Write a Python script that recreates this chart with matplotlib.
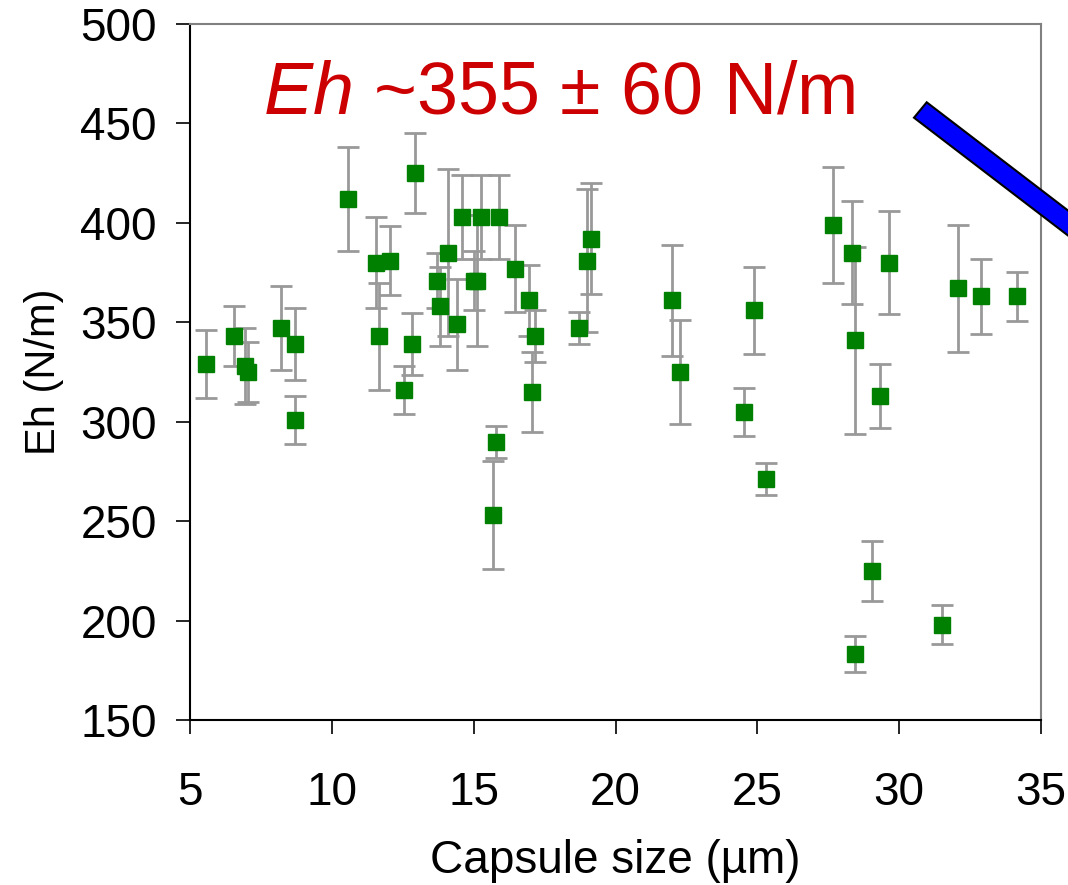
import matplotlib
matplotlib.use('Agg')
import matplotlib.pyplot as plt
from matplotlib.patches import Polygon

plt.rcParams['font.family'] = ['Liberation Sans', 'DejaVu Sans']
plt.rcParams['mathtext.fontset'] = 'custom'
plt.rcParams['mathtext.rm'] = 'Liberation Sans'
plt.rcParams['mathtext.it'] = 'Liberation Sans:italic'

# capsule size (um), Eh (N/m), error (N/m)
size = [5.55, 6.55, 6.94, 7.04, 8.22, 8.71, 8.71, 10.58, 11.56, 11.65,
        12.05, 12.54, 12.84, 12.93, 13.72, 13.81, 14.11, 14.40, 14.60, 15.00,
        15.10, 15.27, 15.89, 16.47, 16.96, 17.16, 17.07, 15.79, 15.69, 18.73,
        19.01, 19.12, 21.99, 22.27, 24.53, 24.88, 25.30, 27.68, 28.35, 28.45,
        28.45, 29.04, 29.34, 29.64, 31.51, 32.09, 32.88, 34.15]
eh = [329, 343, 328, 325, 347, 339, 301, 412, 380, 343,
      381, 316, 339, 425, 371, 358, 385, 349, 403, 371,
      371, 403, 403, 377, 361, 343, 315, 290, 253, 347,
      381, 392, 361, 325, 305, 356, 271, 399, 385, 341,
      183, 225, 313, 380, 198, 367, 363, 363]
err = [17, 15, 19, 15, 21, 18, 12, 26, 23, 27,
       17.5, 12, 15.5, 20, 14, 20, 42, 23, 21, 15,
       33, 21, 21, 22, 18, 13, 20, 8, 27, 8,
       36, 28, 28, 26, 12, 22, 8, 29, 26, 47,
       9, 15, 16, 26, 10, 32, 19, 12.5]

fig = plt.figure(figsize=(10.68, 8.85), dpi=100)
ax = fig.add_axes([190/1068, 1-720/885, (1041-190)/1068, (720-24)/885])

ax.errorbar(size, eh, yerr=err, fmt='s', color='#008000', markersize=12,
            markeredgecolor='#008000', ecolor='#999999', elinewidth=2,
            capsize=8, capthick=2, zorder=3)

ax.set_xlim(5, 35)
ax.set_ylim(150, 500)
ax.set_xticks(range(5, 40, 5))
ax.set_yticks(range(150, 550, 50))
ax.tick_params(direction='out', length=10, width=1.2, labelsize=33)
ax.tick_params(axis='x', pad=27)
ax.tick_params(axis='y', pad=14)

for s in ['left', 'bottom']:
    ax.spines[s].set_color('black')
    ax.spines[s].set_linewidth(1.5)
for s in ['top', 'right']:
    ax.spines[s].set_color('#808080')
    ax.spines[s].set_linewidth(1.5)

ax.set_xlabel('Capsule size (µm)', fontsize=33, labelpad=17)
ax.set_ylabel('Eh (N/m)', fontsize=30, labelpad=12)

fig.text(263/1068, 1-113/885, r'$\mathit{Eh}$ ~355 ± 60 N/m', color='#cc0000',
         fontsize=53, va='baseline', ha='left')

# blue bar at the top right
pts = [(926.7, 102.3), (914, 117.7), (1100, 260), (1100, 235)]
bar = Polygon([(px/1068, 1-py/885) for px, py in pts], closed=True,
              facecolor='#0000ff', edgecolor='black', linewidth=1.5,
              transform=fig.transFigure, clip_on=False, zorder=5)
fig.patches.append(bar)

fig.savefig('out.png', dpi=100)
